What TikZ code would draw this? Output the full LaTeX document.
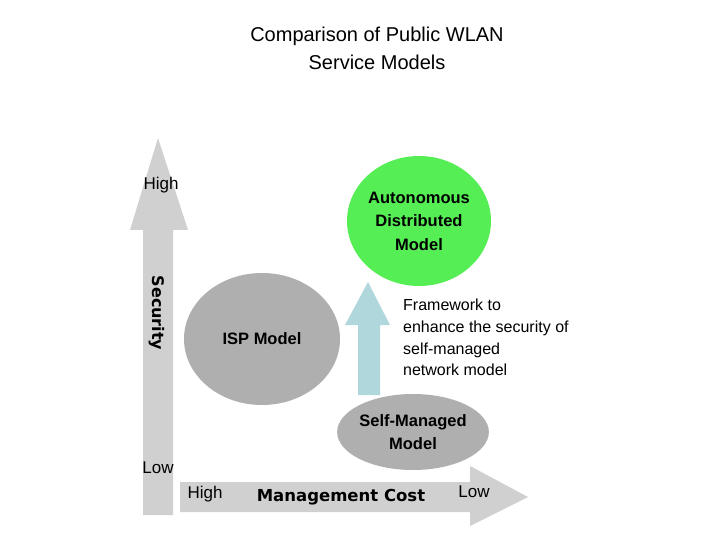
\documentclass[tikz,border=0pt]{standalone}
\usepackage{fontspec}
\setmainfont{Liberation Sans}
\newfontfamily\wide{DejaVu Sans}
\usetikzlibrary{shapes.geometric}
\begin{document}
\begin{tikzpicture}[x=1pt,y=-1pt,
  lbl/.style={font=\fontsize{17}{20}\selectfont, inner sep=0pt},
  bl/.style={font=\fontsize{16.5}{23.5}\selectfont\bfseries, inner sep=0pt, align=center}]
\useasboundingbox (0,0) rectangle (720,540);
\definecolor{agray}{HTML}{D0D0D0}
\definecolor{egray}{HTML}{AFAFAF}
\definecolor{egreen}{HTML}{55EE55}
\definecolor{ablue}{HTML}{B0D8DC}
\node[font=\fontsize{20}{28}\selectfont, align=center] (title) at (377,48) {Comparison of Public WLAN\\Service Models};
% vertical arrow
\fill[agray] (143,515) -- (143,230) -- (130,230) -- (158,138) -- (188,230) -- (173,230) -- (173,515) -- cycle;
% horizontal arrow
\fill[agray] (180,482) -- (470,482) -- (470,466) -- (528,497) -- (470,526) -- (470,512) -- (180,512) -- cycle;
\node[lbl] (high) at (161,185) {High};
\node[lbl] (low) at (158,468) {Low};
\node[inner sep=0pt, rotate=-90, font=\wide\fontsize{16}{18}\selectfont\bfseries] (sec) at (157,313) {Security};
\node[lbl] (high2) at (205,494) {High};
\node[inner sep=0pt, font=\wide\fontsize{16.5}{18}\selectfont\bfseries] (mc) at (341,497) {Management Cost};
\node[lbl] (low2) at (474,492) {Low};
% ellipses
\node[ellipse, fill=egreen, minimum width=144, minimum height=130, bl] (auto) at (419,221) {Autonomous\\Distributed\\Model};
\node[ellipse, fill=egray, minimum width=156, minimum height=132, bl] (isp) at (262,339) {ISP Model};
\node[ellipse, fill=egray, minimum width=150, minimum height=76, bl] (self) at (413,432) {Self-Managed\\Model};
% blue arrow
\fill[ablue] (358,395) -- (358,325) -- (345,325) -- (368,282) -- (390,325) -- (380,325) -- (380,395) -- cycle;
\node[lbl, align=left, anchor=north west, font=\fontsize{16}{21.7}\selectfont] (fw) at (403,299) {Framework to\\enhance the security of\\self-managed\\network model};
\end{tikzpicture}
\end{document}
